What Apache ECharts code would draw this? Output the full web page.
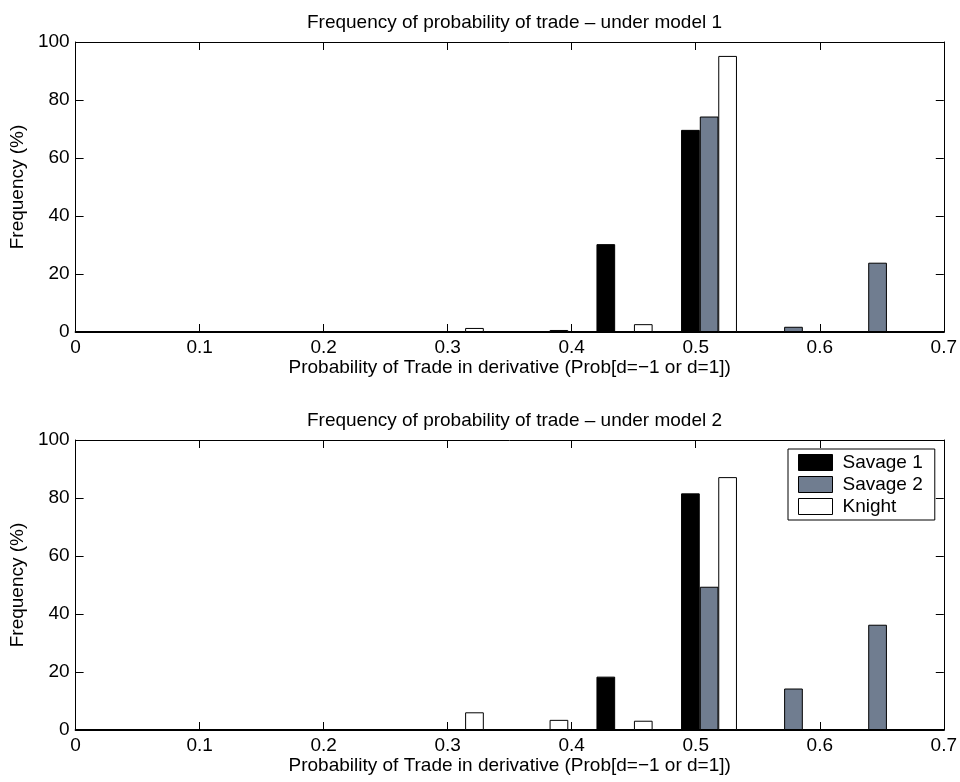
<!DOCTYPE html>
<html>
<head>
<meta charset="utf-8">
<script src="https://cdn.jsdelivr.net/npm/echarts@6/dist/echarts.min.js"></script>
<style>
html,body{margin:0;padding:0;background:#fff;}
#chart{width:960px;height:782px;}
</style>
</head>
<body>
<div id="chart"></div>
<script>
// ---- data ----
var titles = ['Frequency of probability of trade \u2013 under model 1', 'Frequency of probability of trade \u2013 under model 2'];
var xName = 'Probability of Trade in derivative (Prob[d=\u22121 or d=1])';
var yName = 'Frequency (%)';
var seriesNames = ['Savage 1', 'Savage 2', 'Knight'];
// bin centres (probability of trade) for each series
var savage1X = [0.4275, 0.4957];
var savage2X = [0.5108, 0.5788, 0.6466];
var knightX  = [0.3216, 0.3897, 0.4577, 0.5257];
// model 1 frequencies (%)
var savage1M1 = [30.3, 69.7];
var savage2M1 = [74.3, 1.8, 23.9];
var knightM1  = [1.4, 0.7, 2.7, 95.2];
// model 2 frequencies (%)
var savage1M2 = [18.4, 81.6];
var savage2M2 = [49.4, 14.3, 36.3];
var knightM2  = [6.1, 3.5, 3.2, 87.2];
var xTicks = [0, 0.1, 0.2, 0.3, 0.4, 0.5, 0.6, 0.7];
var yTicks = [0, 20, 40, 60, 80, 100];

// ---- chart ----
var FONT = 'Liberation Sans, Arial, Helvetica, sans-serif';
var FS = 19;
var colors = ['#000000', '#707d90', '#ffffff'];
var grids = [
  {left: 73, right: 14, top: 42, height: 290},
  {left: 73, right: 14, top: 440, height: 290}
];
function pair(xs, ys){ return xs.map(function(x,i){ return [x, ys[i]]; }); }

var xAxes = [], yAxes = [];
for (var g = 0; g < 2; g++) {
  xAxes.push({
    type: 'value', gridIndex: g, position: 'bottom',
    min: xTicks[0], max: xTicks[xTicks.length-1], interval: 0.1,
    name: xName, nameLocation: 'middle', nameGap: 22,
    nameTextStyle: {fontFamily: FONT, fontSize: FS, color: '#000'},
    axisLine: {show: true, onZero: false, lineStyle: {color: '#000', width: 2}},
    axisTick: {show: true, inside: true, length: 8, lineStyle: {color: '#000', width: 1}},
    axisLabel: {fontFamily: FONT, fontSize: FS, color: '#000', margin: 6,
      formatter: function(v){ return +v.toFixed(1) + ''; }},
    splitLine: {show: false}
  });
  xAxes.push({
    type: 'value', gridIndex: g, position: 'top',
    min: xTicks[0], max: xTicks[xTicks.length-1], interval: 0.1,
    axisLine: {show: true, onZero: false, lineStyle: {color: '#000', width: 1}},
    axisTick: {show: true, inside: true, length: 8, lineStyle: {color: '#000', width: 1}},
    axisLabel: {show: false}, splitLine: {show: false}
  });
  yAxes.push({
    type: 'value', gridIndex: g, position: 'left',
    min: yTicks[0], max: yTicks[yTicks.length-1], interval: 20,
    name: yName, nameLocation: 'middle', nameGap: 38,
    nameTextStyle: {fontFamily: FONT, fontSize: FS, color: '#000'},
    axisLine: {show: true, onZero: false, lineStyle: {color: '#000', width: 1}},
    axisTick: {show: true, inside: true, length: 8, lineStyle: {color: '#000', width: 1}},
    axisLabel: {fontFamily: FONT, fontSize: FS, color: '#000', margin: 6},
    splitLine: {show: false}
  });
  yAxes.push({
    type: 'value', gridIndex: g, position: 'right',
    min: yTicks[0], max: yTicks[yTicks.length-1], interval: 20,
    axisLine: {show: true, onZero: false, lineStyle: {color: '#000', width: 1}},
    axisTick: {show: true, inside: true, length: 8, lineStyle: {color: '#000', width: 1}},
    axisLabel: {show: false}, splitLine: {show: false}
  });
}

var dataSets = [
  [pair(savage1X, savage1M1), pair(savage2X, savage2M1), pair(knightX, knightM1)],
  [pair(savage1X, savage1M2), pair(savage2X, savage2M2), pair(knightX, knightM2)]
];
var series = [];
for (var g2 = 0; g2 < 2; g2++) {
  for (var s = 0; s < 3; s++) {
    series.push({
      type: 'bar', name: seriesNames[s],
      xAxisIndex: g2*2, yAxisIndex: g2*2,
      data: dataSets[g2][s],
      barWidth: 18.7, barGap: '-100%',
      itemStyle: {color: colors[s], borderColor: '#000', borderWidth: 1},
      emphasis: {disabled: true},
      animation: false
    });
  }
}

var chart = echarts.init(document.getElementById('chart'), null, {renderer: 'canvas'});
chart.setOption({
  backgroundColor: '#fff',
  animation: false,
  title: [
    {text: titles[0], left: 509.5, top: 8, textAlign: 'center',
     textStyle: {fontFamily: FONT, fontSize: FS, fontWeight: 'normal', color: '#000'}},
    {text: titles[1], left: 509.5, top: 406, textAlign: 'center',
     textStyle: {fontFamily: FONT, fontSize: FS, fontWeight: 'normal', color: '#000'}}
  ],
  legend: {
    data: seriesNames, orient: 'vertical', left: 788, top: 449,
    icon: 'rect',
    itemWidth: 34, itemHeight: 16, itemGap: 3,
    padding: [4, 12, 4, 10],
    backgroundColor: '#fff', borderColor: '#000', borderWidth: 1, borderRadius: 0,
    selectedMode: false,
    textStyle: {fontFamily: FONT, fontSize: FS, color: '#000', padding: [0,0,0,5]},
    itemStyle: {borderColor: '#000', borderWidth: 1}
  },
  grid: grids,
  xAxis: xAxes,
  yAxis: yAxes,
  series: series
});
</script>
</body>
</html>
